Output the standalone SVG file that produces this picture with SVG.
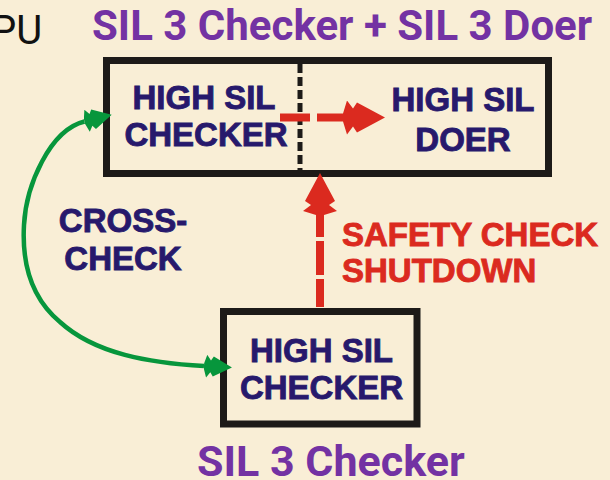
<svg xmlns="http://www.w3.org/2000/svg" width="610" height="480" viewBox="0 0 610 480">
  <style>
    .box { fill: none; stroke: #1d1a18; stroke-width: 7; }
    .divider { stroke: #1d1a18; stroke-width: 5; stroke-dasharray: 9 4; }
    .lbl { font-family: "Liberation Sans", Arial, sans-serif; font-weight: 700; font-size: 33px; fill: #27196c; stroke: #27196c; stroke-width: 0.9; text-anchor: middle; }
    .red { fill: #db2a1f; stroke: #db2a1f; }
    .title { font-family: Roboto, "Liberation Sans", sans-serif; font-weight: 700; fill: #7332a3; }
    .cpu { font-family: Roboto, "Liberation Sans", sans-serif; font-weight: 400; font-size: 40px; fill: #111; }
    .shut { fill: none; stroke: #db2a1f; stroke-width: 8; }
    .cross { fill: none; stroke: #07963c; stroke-width: 4.5; }
  </style>
  <defs>
    <path id="barb" d="M0,0 L-28,-15 L-32,-9 L-38,-17 L-42,-4 L-42,4 L-38,17 L-32,9 L-28,15 Z"/>
    <marker id="headRed" viewBox="-42 -17 42 34" markerUnits="userSpaceOnUse" markerWidth="42" markerHeight="34" refX="-42" refY="0" orient="auto">
      <use href="#barb" fill="#db2a1f"/>
    </marker>
    <marker id="headGreen" viewBox="-42 -17 42 34" markerUnits="userSpaceOnUse" markerWidth="28" markerHeight="22.7" refX="-42" refY="0" orient="auto-start-reverse">
      <use href="#barb" fill="#07963c"/>
    </marker>
  </defs>

  <rect width="610" height="480" fill="#f9eed6"/>

  <text class="cpu" x="-9" y="44">PU</text>
  <text class="title" x="92" y="40" font-size="42">SIL 3 Checker + SIL 3 Doer</text>
  <text class="title" x="197" y="476" font-size="43">SIL 3 Checker</text>

  <g id="sil3-pair">
    <rect class="box" x="106.5" y="60.5" width="442" height="113"/>
    <line class="divider" x1="300" y1="64" x2="300" y2="171"/>
    <text class="lbl" x="204" y="109">HIGH SIL</text>
    <text class="lbl" x="206" y="146">CHECKER</text>
    <text class="lbl" x="463" y="111">HIGH SIL</text>
    <text class="lbl" x="463" y="151">DOER</text>
  </g>

  <g id="sil3-checker">
    <rect class="box" x="223.5" y="311.5" width="193.5" height="112.5"/>
    <text class="lbl" x="321.5" y="362" font-size="34">HIGH SIL</text>
    <text class="lbl" x="321.5" y="399" font-size="34">CHECKER</text>
  </g>

  <g id="connectors">
    <path class="shut" d="M280,117.5 L343,117.5" stroke-dasharray="30 7 40" marker-end="url(#headRed)"/>
    <path class="shut" d="M320,307 L320,215" stroke-dasharray="28 4 34 4 40" marker-end="url(#headRed)"/>
    <path class="cross" d="M204,366 C150,363 95,354 60,322 C30,297 22,260 24,225 C26,185 50,130 84.5,121.5" marker-start="url(#headGreen)" marker-end="url(#headGreen)"/>
  </g>

  <g id="labels">
    <text class="lbl" x="123" y="232">CROSS-</text>
    <text class="lbl" x="123" y="270">CHECK</text>
    <text class="lbl red" x="342" y="246" style="text-anchor:start">SAFETY CHECK</text>
    <text class="lbl red" x="342" y="282" style="text-anchor:start">SHUTDOWN</text>
  </g>
</svg>
